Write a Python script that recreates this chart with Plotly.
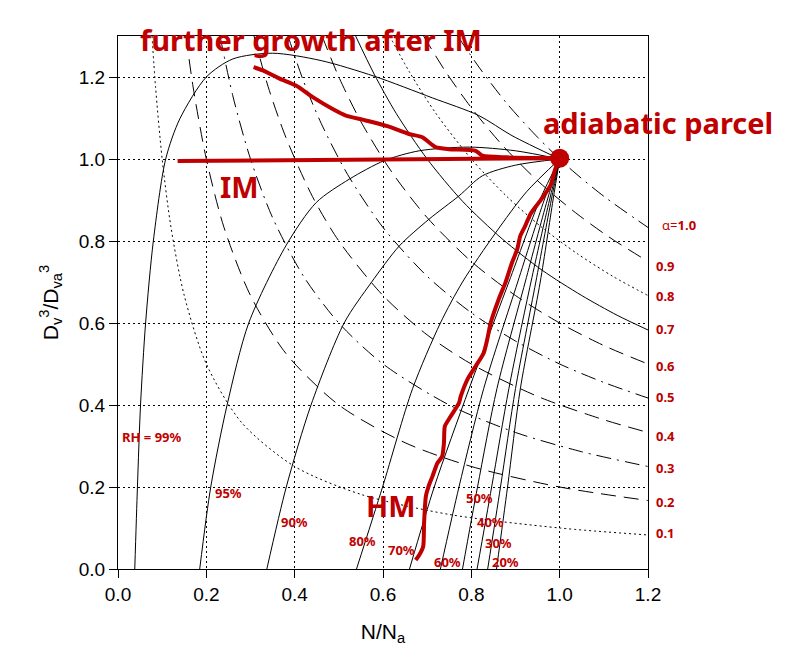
import plotly.graph_objects as go

RED = "#C00000"

# ---- RH homogeneous-mixing curves (solid) ----
rh_labels = ["99%", "95%", "90%", "80%", "70%", "60%", "50%", "40%", "30%", "20%"]
rh_x = [
    [0.038, 0.044, 0.051, 0.0625, 0.080, 0.108, 0.140, 0.200, 0.260, 0.350, 0.460, 0.580, 0.712, 0.817, 0.892, 1.0],
    [0.185, 0.210, 0.247, 0.296, 0.381, 0.449, 0.524, 0.603, 0.682, 0.795, 0.900, 1.0],
    [0.337, 0.381, 0.437, 0.512, 0.573, 0.637, 0.704, 0.772, 0.825, 0.900, 1.0],
    [0.540, 0.599, 0.667, 0.730, 0.780, 0.855, 0.925, 1.0],
    [0.660, 0.716, 0.795, 0.885, 0.955, 1.0],
    [0.730, 0.772, 0.828, 0.905, 0.965, 1.0],
    [0.780, 0.814, 0.858, 0.922, 0.972, 1.0],
    [0.813, 0.846, 0.885, 0.935, 0.977, 1.0],
    [0.837, 0.866, 0.900, 0.946, 0.981, 1.0],
    [0.857, 0.882, 0.911, 0.956, 0.985, 1.0],
]
rh_y = [
    [0.0, 0.2, 0.4, 0.6, 0.8, 1.0, 1.098, 1.200, 1.244, 1.258, 1.240, 1.202, 1.149, 1.106, 1.057, 1.0],
    [0.0, 0.2, 0.4, 0.6, 0.790, 0.894, 0.951, 0.996, 1.020, 1.029, 1.020, 1.0],
    [0.0, 0.2, 0.4, 0.6, 0.698, 0.788, 0.853, 0.910, 0.959, 0.985, 1.0],
    [0.0, 0.2, 0.44, 0.60, 0.70, 0.82, 0.92, 1.0],
    [0.0, 0.2, 0.44, 0.70, 0.90, 1.0],
    [0.0, 0.2, 0.44, 0.70, 0.90, 1.0],
    [0.0, 0.2, 0.44, 0.70, 0.90, 1.0],
    [0.0, 0.2, 0.44, 0.70, 0.90, 1.0],
    [0.0, 0.2, 0.44, 0.70, 0.90, 1.0],
    [0.0, 0.2, 0.44, 0.70, 0.90, 1.0],
]
rh_label_x = [0.077, 0.251, 0.400, 0.553, 0.641, 0.747, 0.819, 0.844, 0.862, 0.878]
rh_label_y = [0.323, 0.186, 0.115, 0.068, 0.046, 0.017, 0.174, 0.115, 0.064, 0.017]
rh_label_text = ["RH = 99%", "95%", "90%", "80%", "70%", "60%", "50%", "40%", "30%", "20%"]

# ---- alpha isolines (LWC / LWC_a) ----
alpha_vals = ["0.1", "0.2", "0.3", "0.4", "0.5", "0.6", "0.7", "0.8", "0.9", "1.0"]
alpha_x = [
    [0.077, 0.085, 0.100, 0.120, 0.150, 0.200, 0.280, 0.400, 0.550, 0.750, 1.000, 1.200],
    [0.154, 0.170, 0.200, 0.240, 0.300, 0.380, 0.500, 0.650, 0.800, 1.000, 1.200],
    [0.231, 0.260, 0.300, 0.350, 0.420, 0.500, 0.600, 0.750, 0.900, 1.050, 1.200],
    [0.308, 0.340, 0.380, 0.440, 0.500, 0.600, 0.700, 0.800, 0.950, 1.100, 1.200],
    [0.385, 0.420, 0.460, 0.520, 0.600, 0.700, 0.800, 0.900, 1.000, 1.100, 1.200],
    [0.462, 0.500, 0.550, 0.620, 0.700, 0.800, 0.900, 1.000, 1.100, 1.200],
    [0.538, 0.580, 0.630, 0.700, 0.780, 0.870, 0.960, 1.050, 1.130, 1.200],
    [0.615, 0.660, 0.720, 0.800, 0.880, 0.960, 1.040, 1.120, 1.200],
    [0.692, 0.740, 0.800, 0.870, 0.950, 1.030, 1.110, 1.200],
    [0.769, 0.820, 0.880, 0.950, 1.020, 1.100, 1.200],
]
alpha_y = [
    [1.300, 1.176, 1.000, 0.833, 0.667, 0.500, 0.357, 0.250, 0.182, 0.133, 0.100, 0.083],
    [1.300, 1.176, 1.000, 0.833, 0.667, 0.526, 0.400, 0.308, 0.250, 0.200, 0.167],
    [1.300, 1.154, 1.000, 0.857, 0.714, 0.600, 0.500, 0.400, 0.333, 0.286, 0.250],
    [1.300, 1.176, 1.053, 0.909, 0.800, 0.667, 0.571, 0.500, 0.421, 0.364, 0.333],
    [1.300, 1.190, 1.087, 0.962, 0.833, 0.714, 0.625, 0.556, 0.500, 0.455, 0.417],
    [1.300, 1.200, 1.091, 0.968, 0.857, 0.750, 0.667, 0.600, 0.545, 0.500],
    [1.300, 1.207, 1.111, 1.000, 0.897, 0.805, 0.729, 0.667, 0.619, 0.583],
    [1.300, 1.212, 1.111, 1.000, 0.909, 0.833, 0.769, 0.714, 0.667],
    [1.300, 1.216, 1.125, 1.034, 0.947, 0.874, 0.811, 0.750],
    [1.300, 1.220, 1.136, 1.053, 0.980, 0.909, 0.833],
]
alpha_dash = ["2px,3px", "15px,8px", "15px,6px,2px,6px", "15px,8px", "15px,6px,2px,6px",
              "15px,8px", "solid", "2px,3px", "15px,8px", "15px,6px,2px,6px"]
alpha_label_text = ["0.1", "0.2", "0.3", "0.4", "0.5", "0.6", "0.7", "0.8", "0.9", "α=1.0"]
alpha_label_y = [0.088, 0.164, 0.247, 0.325, 0.420, 0.496, 0.585, 0.665, 0.740, 0.838]

# ---- red observation / process lines ----
im_x = [0.135, 1.0]
im_y = [0.995, 1.002]
fg_x = [0.307, 0.328, 0.366, 0.403, 0.441, 0.486, 0.516, 0.561, 0.610, 0.659, 0.689, 0.719, 0.749, 0.810, 0.825, 0.880, 1.0]
fg_y = [1.224, 1.216, 1.196, 1.179, 1.151, 1.122, 1.106, 1.094, 1.080, 1.061, 1.053, 1.029, 1.024, 1.020, 1.008, 1.004, 1.002]
hm_x = [1.0, 0.990, 0.979, 0.953, 0.934, 0.922, 0.911, 0.904, 0.892, 0.877, 0.862, 0.844, 0.836, 0.828,
        0.810, 0.791, 0.776, 0.772, 0.753, 0.740, 0.738, 0.734, 0.723, 0.712, 0.703, 0.697, 0.693, 0.691, 0.682, 0.674]
hm_y = [1.0, 0.976, 0.935, 0.894, 0.866, 0.837, 0.813, 0.780, 0.747, 0.698, 0.658, 0.601, 0.560, 0.527,
        0.495, 0.462, 0.421, 0.405, 0.372, 0.348, 0.307, 0.275, 0.258, 0.226, 0.201, 0.177, 0.112, 0.055, 0.034, 0.022]
parcel_x = [1.0]
parcel_y = [1.002]

x_ticks = [0.0, 0.2, 0.4, 0.6, 0.8, 1.0, 1.2]
y_ticks = [0.0, 0.2, 0.4, 0.6, 0.8, 1.0, 1.2]
X_MAX = 1.2
Y_MAX = 1.3

fig = go.Figure()

for xs, ys, d in zip(alpha_x, alpha_y, alpha_dash):
    fig.add_trace(go.Scatter(x=xs, y=ys, mode="lines",
                             line=dict(color="black", width=1, dash=d, shape="spline", smoothing=0.8),
                             hoverinfo="skip", showlegend=False))

for xs, ys in zip(rh_x, rh_y):
    fig.add_trace(go.Scatter(x=xs, y=ys, mode="lines",
                             line=dict(color="black", width=1, shape="spline", smoothing=0.8),
                             hoverinfo="skip", showlegend=False))

fig.add_trace(go.Scatter(x=im_x, y=im_y, mode="lines", line=dict(color=RED, width=4), showlegend=False))
fig.add_trace(go.Scatter(x=fg_x, y=fg_y, mode="lines", line=dict(color=RED, width=4, shape="spline", smoothing=0.6),
                         showlegend=False))
fig.add_trace(go.Scatter(x=hm_x, y=hm_y, mode="lines", line=dict(color=RED, width=4, shape="spline", smoothing=0.6),
                         showlegend=False))
fig.add_trace(go.Scatter(x=parcel_x, y=parcel_y, mode="markers", marker=dict(color=RED, size=19),
                         showlegend=False, cliponaxis=False))


def paper_ann(x, y, text, font, xanchor="center"):
    # positions given in data units, converted to paper units so that
    # labels beyond the axis range are still drawn
    return dict(x=x / X_MAX, y=y / Y_MAX, xref="paper", yref="paper", text=text, font=font,
                showarrow=False, xanchor=xanchor, yanchor="middle")


ann = []
big = dict(family="Noto Sans", size=29, color=RED)
ann.append(paper_ann(0.438, 1.292, "<b>further growth after IM</b>", big))
ann.append(paper_ann(1.223, 1.090, "<b>adiabatic parcel</b>", big))
ann.append(paper_ann(0.275, 0.932, "<b>IM</b>", big))
ann.append(paper_ann(0.618, 0.156, "<b>HM</b>", big))
small = dict(family="Noto Sans", size=13, color=RED)
for t, lx, ly in zip(rh_label_text, rh_label_x, rh_label_y):
    ann.append(paper_ann(lx, ly, "<b>" + t + "</b>", small))
for t, ly in zip(alpha_label_text, alpha_label_y):
    if t.startswith("α"):
        ann.append(paper_ann(1.227, ly, "α=<b>1.0</b>", small, xanchor="left"))
    else:
        ann.append(paper_ann(1.213, ly, "<b>" + t + "</b>", small, xanchor="left"))

axis_common = dict(showline=True, mirror=True, linecolor="black", linewidth=1,
                   ticks="outside", ticklen=8, tickcolor="black", tickwidth=1,
                   showgrid=True, gridcolor="black", gridwidth=1, griddash="2px,3px",
                   zeroline=False, tickfont=dict(family="Liberation Sans", size=19, color="black"),
                   tickformat=".1f")

fig.update_layout(
    width=794, height=671,
    margin=dict(l=118, r=146, t=36, b=102),
    paper_bgcolor="white", plot_bgcolor="white",
    showlegend=False,
    annotations=ann,
    xaxis=dict(range=[0, X_MAX], tickvals=x_ticks,
               title=dict(text="N/N<sub>a</sub>", font=dict(family="Liberation Sans", size=21, color="black"),
                          standoff=20),
               **axis_common),
    yaxis=dict(range=[0, Y_MAX], tickvals=y_ticks,
               title=dict(text="D<sub>v</sub><sup>3</sup>/D<sub>va</sub><sup>3</sup>",
                          font=dict(family="Liberation Sans", size=21, color="black"), standoff=14),
               **axis_common),
)

fig.write_html("out.html")
